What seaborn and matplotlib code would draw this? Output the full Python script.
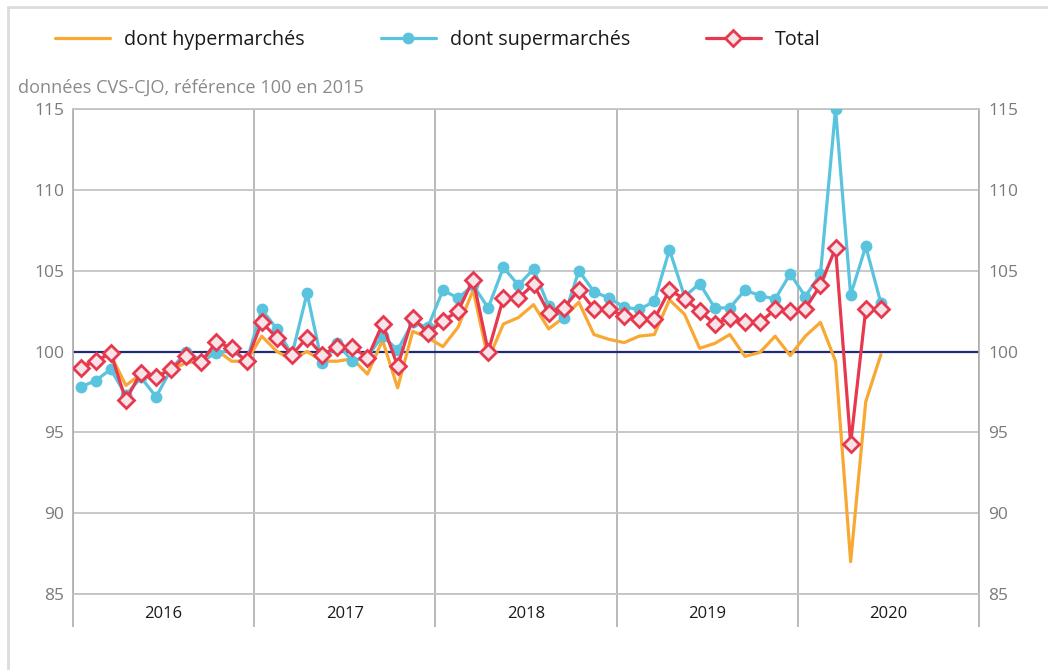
import numpy as np
import pandas as pd
import matplotlib
matplotlib.use("Agg")
import matplotlib.pyplot as plt
import seaborn as sns
from matplotlib.lines import Line2D

# ---------------- data (monthly, Jan 2016 - Jun 2020) ----------------
months = pd.date_range("2016-01-01", "2020-06-01", freq="MS")

hyper = [99.1, 99.5, 99.8, 97.9, 98.6, 98.5, 98.9, 99.3, 99.4, 100.1, 99.4, 99.4,
         100.95, 100.0, 99.5, 100.0, 99.4, 99.4, 99.55, 98.6, 100.7, 97.75, 101.25, 100.85,
         100.3, 101.5, 103.8, 99.5, 101.7, 102.1, 102.9, 101.4, 102.1, 103.05, 101.05, 100.75,
         100.55, 100.95, 101.05, 103.2, 102.3, 100.2, 100.5, 101.05, 99.7, 99.95, 100.95, 99.75,
         100.95, 101.8, 99.4, 87.0, 96.9, 99.8]

superm = [97.8, 98.2, 98.9, 97.3, 98.4, 97.2, 98.9, 100.0, 99.4, 99.9, 100.1, 99.4,
          102.6, 101.4, 99.8, 103.6, 99.26, 100.5, 99.4, 99.7, 100.95, 100.1, 101.8, 101.5,
          103.8, 103.3, 104.1, 102.7, 105.2, 104.1, 105.1, 102.8, 102.1, 105.0, 103.7, 103.3,
          102.75, 102.6, 103.1, 106.3, 103.4, 104.2, 102.7, 102.7, 103.8, 103.45, 103.25, 104.8,
          103.4, 104.8, 115.0, 103.5, 106.5, 103.0]

total = [99.0, 99.4, 99.9, 97.0, 98.7, 98.4, 98.9, 99.75, 99.36, 100.6, 100.2, 99.4,
         101.8, 100.85, 99.8, 100.85, 99.8, 100.3, 100.3, 99.6, 101.7, 99.1, 102.1, 101.15,
         101.9, 102.5, 104.45, 100.0, 103.3, 103.3, 104.15, 102.4, 102.7, 103.8, 102.65, 102.6,
         102.2, 102.0, 102.0, 103.8, 103.25, 102.5, 101.7, 102.1, 101.8, 101.8, 102.6, 102.5,
         102.65, 104.1, 106.4, 94.3, 102.6, 102.65]

years = ["2016", "2017", "2018", "2019", "2020"]
yticks = [85, 90, 95, 100, 105, 110, 115]
labels = ["dont hypermarchés", "dont supermarchés", "Total"]
subtitle = "données CVS-CJO, référence 100 en 2015"

# ---------------- style ----------------
sns.set_theme(style="white")
plt.rcParams["font.family"] = ["Open Sans", "DejaVu Sans"]

ORANGE = "#F9A834"
BLUE = "#5AC3DE"
RED = "#E6384F"
RED_FILL = "#F6E4E8"
NAVY = "#1E2A7A"
GRID = "#C4C4C4"
VGRID = "#ADADAD"
TICK_GRAY = "#7A7A7A"

pos = (months.year - 2016) * 12 + months.month - 1 + 0.5
df = pd.DataFrame({"pos": pos, "hyper": hyper, "super": superm, "total": total})

W, H = 1048, 670
fig = plt.figure(figsize=(W / 100, H / 100), dpi=100)
ax = fig.add_axes([73 / W, 1 - 594 / H, 906 / W, 485 / H])

ax.axhline(100, color=NAVY, lw=1.6, zorder=1.5)

sns.lineplot(data=df, x="pos", y="hyper", ax=ax, color=ORANGE, lw=2.3,
             label=labels[0], zorder=3)
sns.lineplot(data=df, x="pos", y="super", ax=ax, color=BLUE, lw=2.3,
             marker="o", markersize=8.5, markeredgewidth=0, markerfacecolor=BLUE,
             label=labels[1], zorder=4)
sns.lineplot(data=df, x="pos", y="total", ax=ax, color=RED, lw=2.3,
             marker="D", markersize=8, markeredgewidth=2.0,
             markerfacecolor=RED_FILL, markeredgecolor=RED,
             label=labels[2], zorder=5)

handles, labs = ax.get_legend_handles_labels()
ax.get_legend().remove()

ax.set_xlim(0, 60)
ax.set_ylim(85, 115)
ax.set_xlabel("")
ax.set_ylabel("")

# x ticks: boundaries (major, extended down), year labels (minor, centred)
ax.set_xticks([0, 12, 24, 36, 48, 60])
ax.set_xticklabels([])
ax.set_xticks([6, 18, 30, 42, 54], minor=True)
ax.set_xticklabels(years, minor=True)
ax.tick_params(axis="x", which="major", length=24, width=1.2, color=VGRID,
               direction="out", bottom=True)
ax.tick_params(axis="x", which="minor", length=0, pad=9, labelsize=12,
               labelcolor="#1a1a1a", bottom=True)
ax.grid(axis="x", which="major", color=VGRID, lw=1.2)

ax.set_yticks(yticks)
ax.set_yticklabels([str(v) for v in yticks])
ax.tick_params(axis="y", which="major", labelsize=12.5, labelcolor=TICK_GRAY,
               left=False, length=0, pad=6.5, right=False, labelright=True)
ax.grid(axis="y", which="major", color=GRID, lw=1.3)

for s in ["left", "right"]:
    ax.spines[s].set_color(VGRID)
    ax.spines[s].set_linewidth(1.2)
for s in ["top", "bottom"]:
    ax.spines[s].set_color(GRID)
    ax.spines[s].set_linewidth(1.3)

# legend
fig.legend(handles, labs, loc="center left", bbox_to_anchor=(55 / W, 1 - 40 / H),
           ncol=3, frameon=False, fontsize=14.2, handlelength=2.8,
           handletextpad=0.7, columnspacing=3.85, borderpad=0, borderaxespad=0,
           labelcolor="#1a1a1a")

fig.text(18 / W, 1 - 93 / H, subtitle, fontsize=13.1, color="#8A8A8A",
         ha="left", va="baseline")

# outer light frame
fig.add_artist(Line2D([8 / W, 8 / W], [0, 1 - 7 / H], transform=fig.transFigure,
                      color="#DCDCDC", lw=2))
fig.add_artist(Line2D([8 / W, 1], [1 - 7 / H, 1 - 7 / H], transform=fig.transFigure,
                      color="#DCDCDC", lw=2))

fig.savefig("out.png", dpi=100)
